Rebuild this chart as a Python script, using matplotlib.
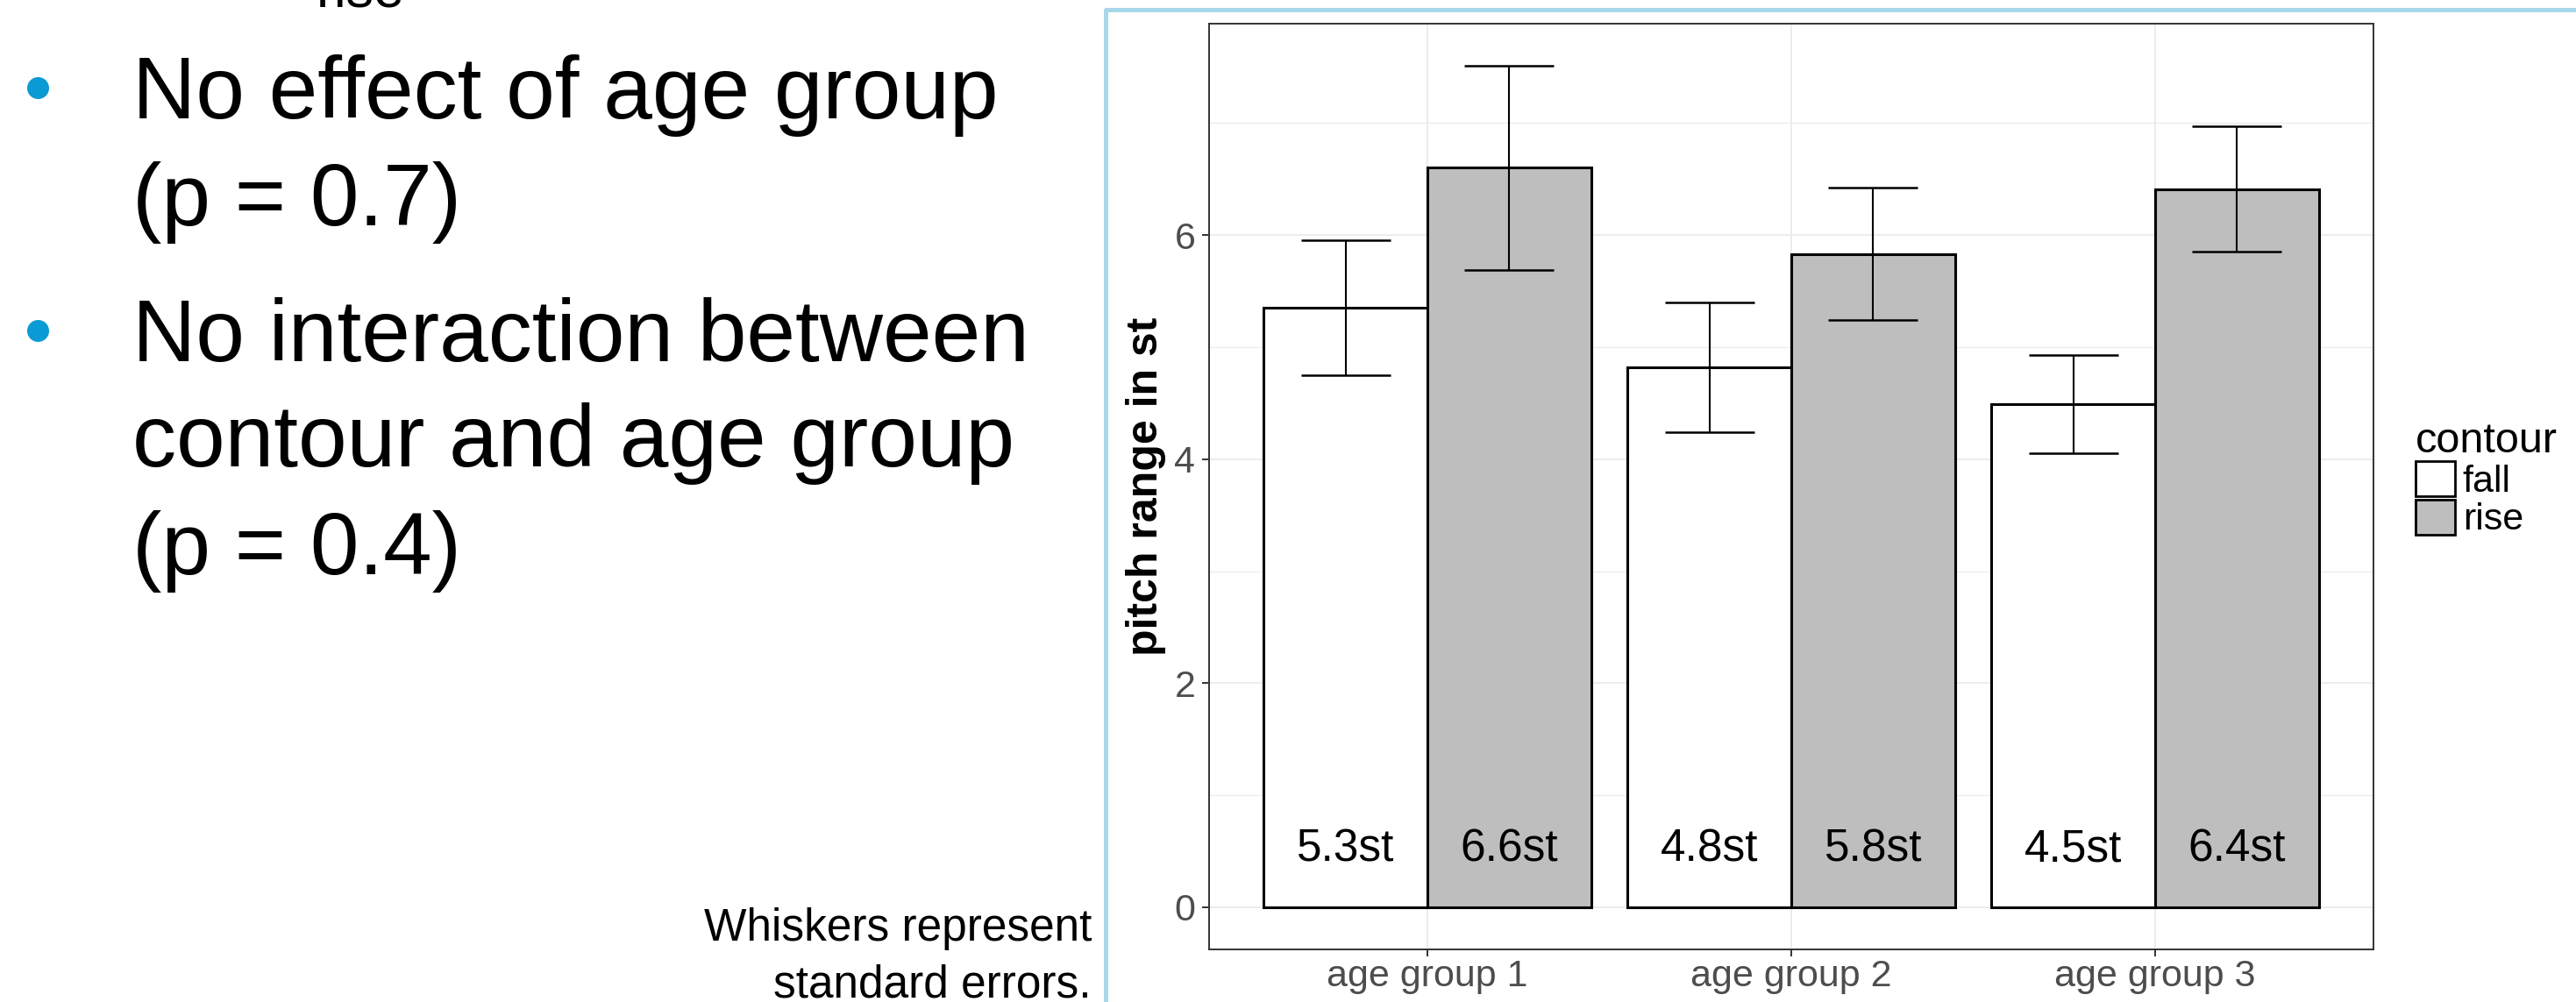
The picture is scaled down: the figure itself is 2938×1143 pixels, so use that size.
# Slide view: bullet text on the left, bar chart of pitch range by age group and contour on the right.
import matplotlib
matplotlib.use('Agg')
import matplotlib.pyplot as plt
from matplotlib.patches import Patch
from matplotlib.lines import Line2D

plt.rcParams['font.family'] = ['Liberation Sans', 'DejaVu Sans']

groups = ['age group 1', 'age group 2', 'age group 3']
fall_mean = [5.35, 4.82, 4.49]
fall_se = [0.60, 0.58, 0.44]
rise_mean = [6.60, 5.83, 6.41]
rise_se = [0.91, 0.59, 0.56]
fall_labels = ['5.3st', '4.8st', '4.5st']
rise_labels = ['6.6st', '5.8st', '6.4st']
yticks = [0, 2, 4, 6]

W, H = 2938, 1143
fig = plt.figure(figsize=(W / 100, H / 100), dpi=100)

def fx(px):
    return px / W

def fy(py):
    return 1 - py / H

# --- chart ---
ax = fig.add_axes([fx(1379), fy(1083), (2707 - 1379) / W, (1083 - 27) / H])
x = list(range(1, len(groups) + 1))
xf = [i - 0.225 for i in x]
xr = [i + 0.225 for i in x]

ax.bar(xf, fall_mean, width=0.45, color='white', edgecolor='black', linewidth=2.2, zorder=2)
ax.bar(xr, rise_mean, width=0.45, color='#BEBEBE', edgecolor='black', linewidth=2.2, zorder=2)
ax.errorbar(xf, fall_mean, yerr=fall_se, fmt='none', ecolor='black', elinewidth=1.5,
            capsize=37, capthick=1.8, zorder=3)
ax.errorbar(xr, rise_mean, yerr=rise_se, fmt='none', ecolor='black', elinewidth=1.5,
            capsize=37, capthick=1.8, zorder=3)

for xi, lab in zip(xf, fall_labels):
    ax.text(xi, 0.41, lab, ha='center', va='baseline', fontsize=37, color='black', zorder=4)
for xi, lab in zip(xr, rise_labels):
    ax.text(xi, 0.41, lab, ha='center', va='baseline', fontsize=37, color='black', zorder=4)

top = max(m + s for m, s in zip(rise_mean + fall_mean, rise_se + fall_se))
ax.set_ylim(-0.05 * top, top * 1.05)
ax.set_xlim(0.4, len(groups) + 0.6)

ax.set_xticks(x)
ax.set_xticklabels(groups)
ax.set_yticks(yticks)
ax.set_yticks([1, 3, 5, 7], minor=True)
ax.tick_params(axis='both', which='major', length=5.8, width=1.4, color='#333333',
               labelsize=31, labelcolor='#4D4D4D')
ax.tick_params(axis='x', pad=2)
ax.tick_params(axis='y', pad=5.5)
ax.tick_params(which='minor', length=0)

ax.set_axisbelow(True)
ax.grid(True, which='major', color='#EBEBEB', linewidth=1.3)
ax.grid(True, which='minor', axis='y', color='#EBEBEB', linewidth=0.9)
for s in ax.spines.values():
    s.set_color('#333333')
    s.set_linewidth(1.4)

ax.set_ylabel('pitch range in st', fontsize=36, fontweight='bold', color='black')
ax.yaxis.set_label_coords(-0.037, 0.5)

handles = [Patch(facecolor='white', edgecolor='black', linewidth=2),
           Patch(facecolor='#BEBEBE', edgecolor='black', linewidth=2)]
ax.legend(handles, ['fall', 'rise'], title='contour', loc='upper left',
          bbox_to_anchor=(fx(2755), fy(481)), bbox_transform=fig.transFigure,
          frameon=False, fontsize=31, title_fontsize=35, handlelength=1.05,
          handleheight=1.05, handletextpad=0.2, labelspacing=0.0,
          borderpad=0, borderaxespad=0, alignment='left')

# --- slide decorations ---
fig.add_artist(Line2D([fx(1261), fx(1261), fx(W + 10)], [fy(H + 10), fy(10.5), fy(10.5)],
                      color='#A8D8EA', linewidth=3.6, transform=fig.transFigure))

fig.text(fx(361), fy(8), 'rise', fontsize=45, va='baseline', ha='left')

for by in [100, 377]:
    fig.add_artist(Line2D([fx(43)], [fy(by)], marker='o', markersize=18, color='#0A9AD4',
                          markeredgewidth=0, transform=fig.transFigure))

bullet_lines = [('No effect of age group', 135), ('(p = 0.7)', 257),
                ('No interaction between', 412), ('contour and age group', 532),
                ('(p = 0.4)', 655)]
for txt, base in bullet_lines:
    fig.text(fx(151), fy(base), txt, fontsize=72, va='baseline', ha='left', color='black')

fig.text(fx(1245), fy(1073), 'Whiskers represent', fontsize=37, va='baseline', ha='right')
fig.text(fx(1245), fy(1137), 'standard errors.', fontsize=37, va='baseline', ha='right')

fig.savefig('out.png', dpi=100)
